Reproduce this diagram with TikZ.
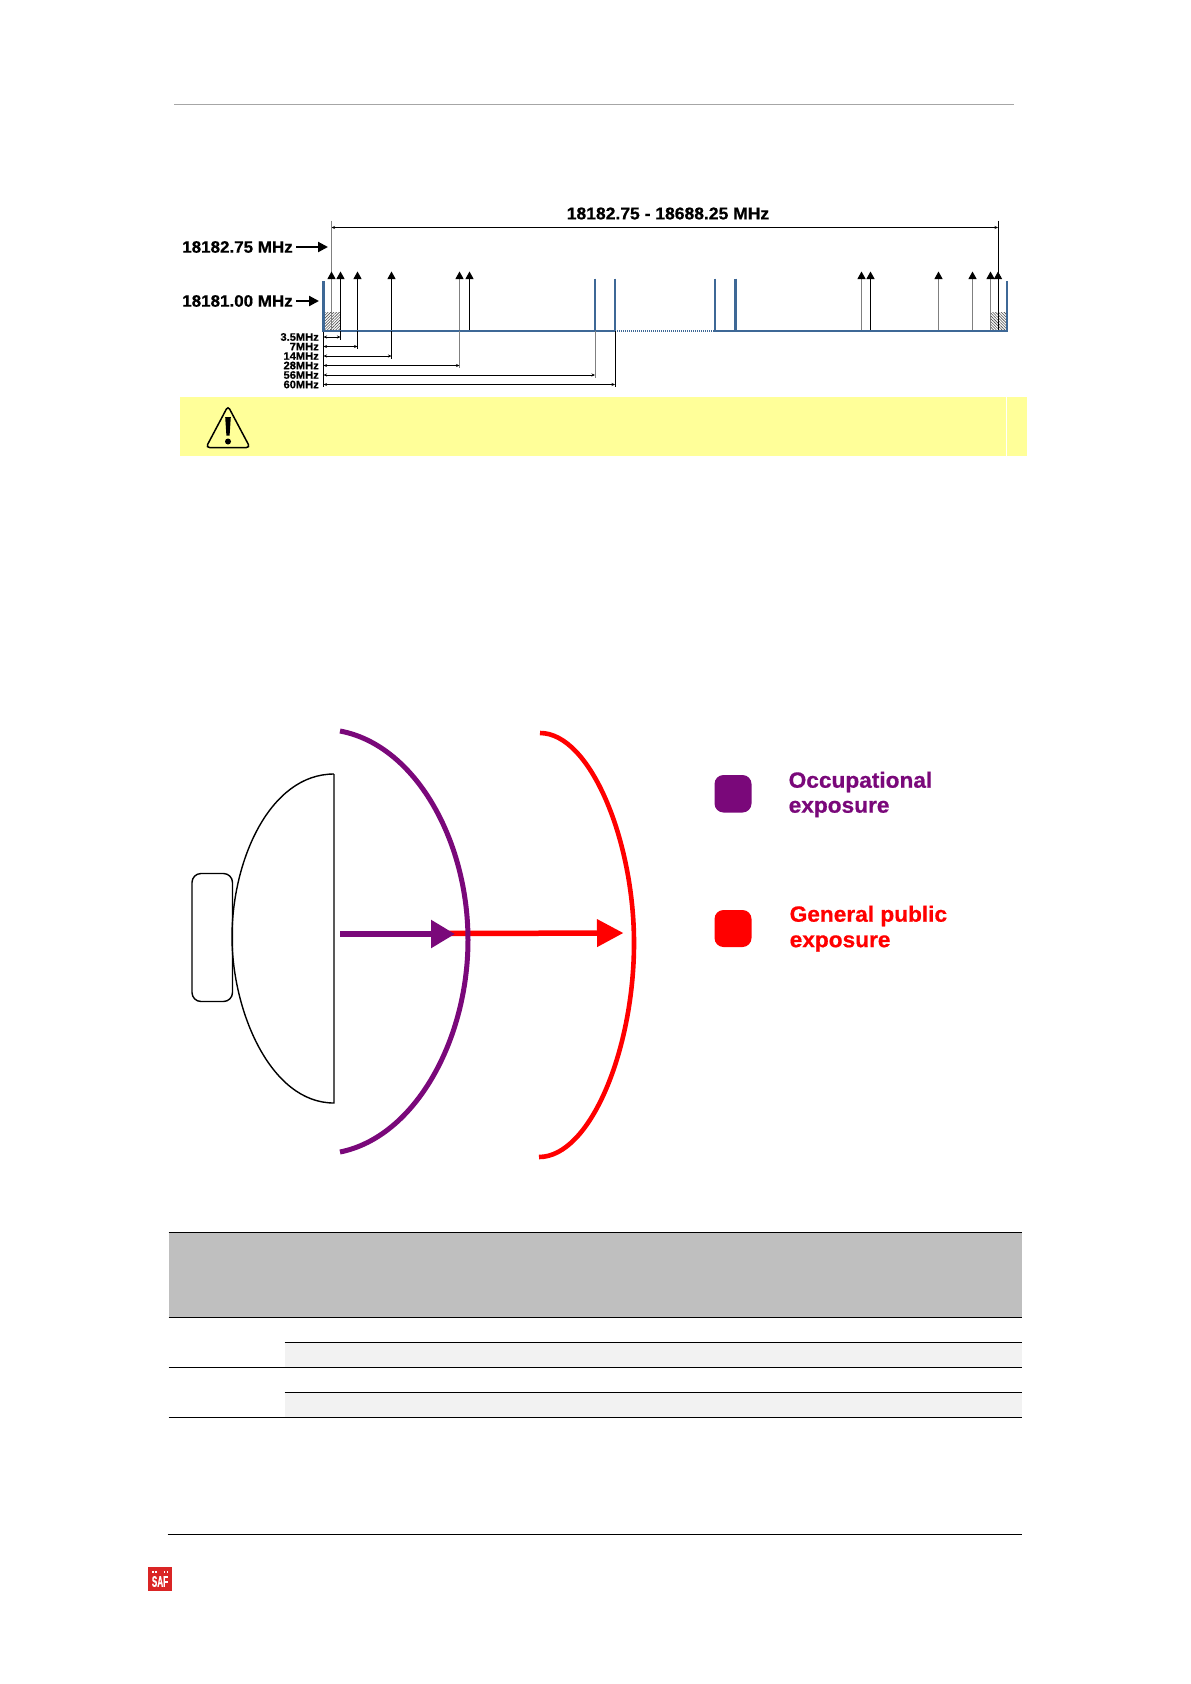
\documentclass[tikz,border=0pt]{standalone}
\usepackage{fontspec}
\setmainfont{Liberation Sans}
\newfontfamily\heavyfont{Liberation Sans Bold}[FakeBold=0.7,FakeStretch=1.03]
\usepackage{graphicx}
\usepackage{xcolor}
\usepackage{tikz}
\usetikzlibrary{arrows.meta, patterns.meta}
\definecolor{bandblue}{RGB}{62, 104, 150}
\definecolor{notebg}{RGB}{255, 255, 153}
\definecolor{occpurple}{RGB}{122, 8, 122}
\definecolor{pubred}{RGB}{255, 0, 0}
\definecolor{headgray}{RGB}{191, 191, 191}
\definecolor{rowgray}{RGB}{242, 242, 242}
\definecolor{saflogo}{RGB}{218, 37, 37}
\newcommand{\boldsize}[1]{\fontsize{#1}{#1}\selectfont\heavyfont}
\tikzset{
  bandline/.style={bandblue, line width=2.6pt},
  upline/.style={line width=1pt},
  dimline/.style={{Stealth[length=3.5pt,width=3pt]}-{Stealth[length=3.5pt,width=3pt]}, line width=0.8pt},
  freqlabel/.style={anchor=east, inner sep=0pt, font=\boldsize{16.5}},
  widthlabel/.style={anchor=east, inner sep=0pt, font=\boldsize{10.8}},
  legendlabel/.style={anchor=west, inner sep=0pt, font=\boldsize{22}},
  rowrule/.style={line width=1pt},
}

\begin{document}
\begin{tikzpicture}[x=1pt, y=-1pt]
\useasboundingbox (0,0) rectangle (1191,1684);
\fill[white] (0,0) rectangle (1191,1684);
\draw[gray!70, line width=0.8pt] (174,104.5) -- (1014,104.5);

% channel plan
\node[inner sep=0pt, font=\boldsize{17}] (rangelabel) at (668,213.5) {18182.75 - 18688.25 MHz};
\node[freqlabel] (lowlabel) at (293,247) {18182.75 MHz};
\node[freqlabel] (edgelabel) at (293,301) {18181.00 MHz};
\draw[-{Triangle[length=10pt,width=10pt]}, line width=2.2pt] (lowlabel.east) ++(3,0) -- (328,247);
\draw[-{Triangle[length=10pt,width=10pt]}, line width=2.2pt] (edgelabel.east) ++(3,0) -- (319,301);

\fill[pattern={Lines[angle=45,distance=2pt,line width=0.6pt]}, pattern color=black!70] (324,312) rectangle (340,331);
\fill[pattern={Lines[angle=-45,distance=2pt,line width=0.6pt]}, pattern color=black!70] (990,312) rectangle (1006,331);

\draw[dimline] (331.5,227.5) -- (998,227.5);
\draw[gray, line width=1pt] (331.5,220.5) -- (331.5,331);
\draw[line width=1pt] (998,220.5) -- (998,331);
\foreach \xpos/\linecol in {331.5/gray, 340.5/black, 357.5/black, 391.5/black, 459.5/gray, 469.5/black, 861.5/gray, 870.5/black, 938.5/gray, 972.5/gray, 990.5/gray, 998/black}
  \draw[upline, draw=\linecol, {Triangle[length=7.5pt,width=8pt,black]}-] (\xpos,271.5) -- (\xpos,331);

\draw[bandline] (323.5,331) -- (615,331);
\draw[bandline] (715,331) -- (1007.5,331);
\draw[bandline, dash pattern=on 1pt off 1pt] (615,331) -- (715,331);
\draw[bandline, line width=2.2pt] (323.5,281) -- (323.5,332);
\draw[bandline, line width=1.8pt] (1007,281) -- (1007,332);
\foreach \xpos in {595, 615, 715, 735.5}
  \draw[bandline] (\xpos,278.5) -- (\xpos,332);

\draw[line width=1pt] (323.5,332) -- (323.5,387);
\foreach \xpos/\ypos/\linecol/\wlabel in {340.5/337/black/3.5MHz, 357.5/346.5/black/7MHz, 391.5/356/black/14MHz, 459.5/365.5/gray/28MHz, 595/375/gray/56MHz, 615/384.5/black/60MHz} {
  \draw[draw=\linecol, line width=1pt] (\xpos,331) -- (\xpos,\ypos+2.5);
  \draw[dimline] (323.5,\ypos) -- (\xpos,\ypos);
  \node[widthlabel] (w\wlabel) at (319,\ypos) {\wlabel};
}

% warning bar
\fill[notebg] (180,397) rectangle (1026.5,456);
\draw[white, line width=0.7pt] (1006.5,397) -- (1006.5,456);
\draw[line width=1.5pt, rounded corners=3.5pt] (228,406) -- (250,447.5) -- (206,447.5) -- cycle;
\fill (225.2,417) -- (230.8,417) -- (229.6,435.5) -- (226.4,435.5) -- cycle;
\fill (228,441.5) circle (3pt);

% exposure zones
\draw[line width=1.4pt] (334,774) -- (334,1103)
  .. controls (270,1103) and (232,1010) .. (232,937)
  .. controls (232,860) and (270,774) .. (334,774);
\draw[line width=1.4pt, rounded corners=9pt] (192,873.5) rectangle (232.5,1001.5);

\draw[pubred, -{Triangle[length=26.5pt,width=26.5pt,pubred]}, line width=5.5pt] (445,933.5) -- (623.5,933);
\draw[occpurple, -{Triangle[length=24pt,width=27pt,occpurple]}, line width=5.5pt] (340,934) -- (455,934);
\draw[occpurple, line width=5pt] (340,731) .. controls (415,745) and (468,840) .. (468,940)
  .. controls (468,1040) and (415,1137) .. (340,1152);
\draw[pubred, line width=4.6pt] (540,733) .. controls (590,733) and (634,840) .. (634,943)
  .. controls (634,1050) and (590,1157) .. (539,1157);

\fill[occpurple, rounded corners=9pt] (714.5,775) rectangle (751.5,812.5);
\fill[pubred, rounded corners=9pt] (714.5,910) rectangle (751.5,947);
\node[legendlabel, text=occpurple] (occlabel) at (788.5,782) {Occupational};
\node[legendlabel, text=occpurple] (occsub) at (788.5,809) {exposure};
\node[legendlabel, text=pubred] (publabel) at (789.5,916) {General public};
\node[legendlabel, text=pubred] (pubsub) at (789.5,943.5) {exposure};

% table
\fill[headgray] (168.5,1232) rectangle (1022,1317);
\fill[rowgray] (284.5,1342) rectangle (1022,1367);
\fill[rowgray] (284.5,1392) rectangle (1022,1417);
\foreach \ypos in {1232, 1317, 1367, 1417}
  \draw[rowrule] (168.5,\ypos) -- (1022,\ypos);
\foreach \ypos in {1342.5, 1392.5}
  \draw[rowrule] (284.5,\ypos) -- (1022,\ypos);
\draw[rowrule] (167.5,1534.5) -- (1022,1534.5);

% logo
\fill[saflogo] (148,1567) rectangle (172,1590.5);
\node[text=white, inner sep=0pt, font=\boldsize{11}] (saflogotext) at (160,1581.5) {\scalebox{0.72}[1.4]{SAF}};
\foreach \xpos in {152, 155, 163.5, 166.5}
  \fill[white] (\xpos,1570.5) rectangle ++(1.6,2.5);
\end{tikzpicture}
\end{document}
